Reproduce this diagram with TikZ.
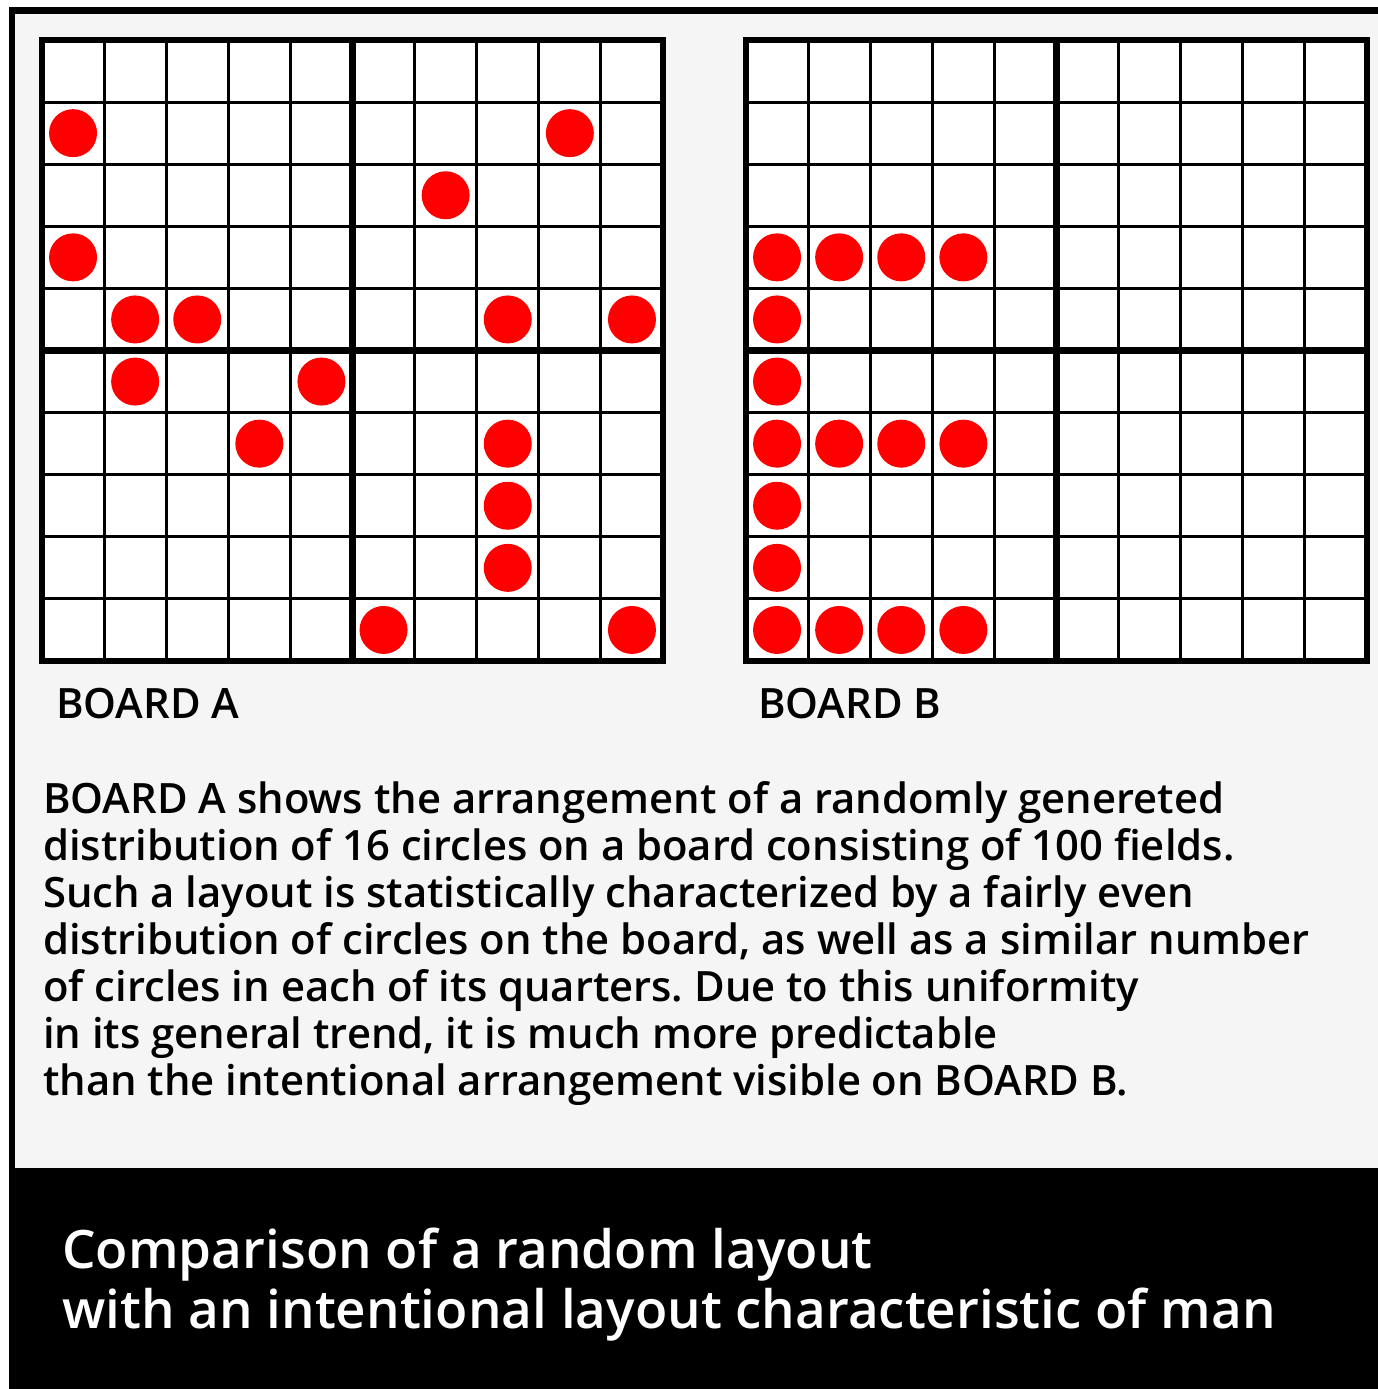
\documentclass[tikz,border=0pt]{standalone}
\usepackage{fontspec}
\setmainfont{Open Sans}
\newfontfamily\semibold{Open Sans Semibold}
\usetikzlibrary{positioning}
\definecolor{panelgray}{HTML}{F5F5F5}
\definecolor{circlered}{HTML}{FF0000}
\frenchspacing

% 10x10 board in cell units
\newcommand{\boardgrid}{%
    \fill[white] (0,0) rectangle (10,10);
    \foreach \i in {1,2,3,4,6,7,8,9} {
        \draw[thinline] (\i,0) -- (\i,10);
        \draw[thinline] (0,\i) -- (10,\i);
    }
    \draw[thickline] (5,0) -- (5,10);
    \draw[thickline] (0,5) -- (10,5);
    \draw[thickline] (0,0) rectangle (10,10);
}

\begin{document}
\begin{tikzpicture}[x=1pt, y=-1pt,
        thinline/.style={line width=3pt, black},
        thickline/.style={line width=6.5pt, black},
        piece/.style={fill=circlered},
        bodytext/.style={inner sep=0pt, align=left, font=\semibold\fontsize{41.8}{47}\selectfont},
        titletext/.style={inner sep=0pt, align=left, text=white, font=\semibold\fontsize{53}{60}\selectfont}
    ]
    % frame and caption band
    \fill[white] (0,0) rectangle (1378,1389);
    \fill[black] (9,7) rectangle (1378,1389);
    \fill[panelgray] (15,14) rectangle (1378,1168);

    % board A
    \begin{scope}[shift={(42,40)}, x=62.1pt, y=-62.1pt]
        \boardgrid
        \foreach \r/\c in {1/0,1/8,2/6,3/0,4/1,4/2,4/7,4/9,5/1,5/4,6/3,6/7,7/7,8/7,9/5,9/9}
            \fill[piece] (\c+0.5,\r+0.5) circle (24pt);
    \end{scope}

    % board B
    \begin{scope}[shift={(746,40)}, x=62.1pt, y=-62.1pt]
        \boardgrid
        \foreach \r/\c in {3/0,3/1,3/2,3/3,4/0,5/0,6/0,6/1,6/2,6/3,7/0,8/0,9/0,9/1,9/2,9/3}
            \fill[piece] (\c+0.5,\r+0.5) circle (24pt);
    \end{scope}

    \node[bodytext, anchor=base west] (labelA) at (56,718) {BOARD A};
    \node[bodytext, anchor=base west] (labelB) at (758,718) {BOARD B};

    \node[bodytext, anchor=north west] (summary) at (43,781) {BOARD A shows the arrangement of a randomly genereted\\
        distribution of 16 circles on a board consisting of 100 fields.\\
        Such a layout is statistically characterized by a fairly even\\
        distribution of circles on the board, as well as a similar number\\
        of circles in each of its quarters. Due to this uniformity\\
        in its general trend, it is much more predictable\\
        than the intentional arrangement visible on BOARD B.};

    \node[titletext, anchor=north west] (caption) at (62,1228) {Comparison of a random layout\\
        with an intentional layout characteristic of man};
\end{tikzpicture}
\end{document}
